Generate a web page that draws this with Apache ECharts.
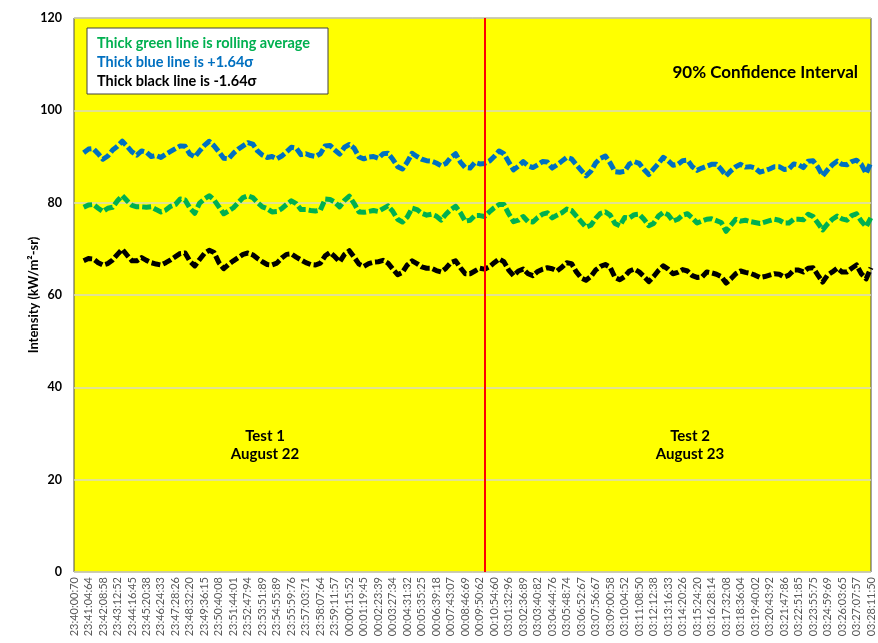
<!DOCTYPE html>
<html>
<head>
<meta charset="utf-8">
<title>Intensity with 90% confidence interval</title>
<script src="https://cdn.jsdelivr.net/npm/echarts@6/dist/echarts.min.js"></script>
<style>
  html, body { margin: 0; padding: 0; background: #ffffff; }
  #chart { width: 878px; height: 643px; }
</style>
</head>
<body>
<div id="chart"></div>
<script>
// Timestamps shown under the x axis, one every third sample
const tickLabels = [
  '23:40:00:70','23:41:04:64','23:42:08:58','23:43:12:52','23:44:16:45','23:45:20:38',
  '23:46:24:33','23:47:28:26','23:48:32:20','23:49:36:15','23:50:40:08','23:51:44:01',
  '23:52:47:94','23:53:51:89','23:54:55:89','23:55:59:76','23:57:03:71','23:58:07:64',
  '23:59:11:57','00:00:15:52','00:01:19:45','00:02:23:39','00:03:27:34','00:04:31:32',
  '00:05:35:25','00:06:39:18','00:07:43:07','00:08:46:69','00:09:50:62','00:10:54:60',
  '03:01:32:96','03:02:36:89','03:03:40:82','03:04:44:76','03:05:48:74','03:06:52:67',
  '03:07:56:67','03:09:00:58','03:10:04:52','03:11:08:50','03:12:12:38','03:13:16:33',
  '03:14:20:26','03:15:24:20','03:16:28:14','03:17:32:08','03:18:36:04','03:19:40:02',
  '03:20:43:92','03:21:47:86','03:22:51:85','03:23:55:75','03:24:59:69','03:26:03:65',
  '03:27:07:57','03:28:11:50'
];
const samplesPerTick = 3;

// +1.64 sigma band (kW/m2-sr); the rolling window leaves the first samples empty
const upperBand = [null, null,
  90.8, 91.6, 91.7, 90.6, 89.4, 90.1, 91.4, 92.2, 93.3, 92.2,
  91.0, 90.3, 91.2, 90.9, 90.0, 90.2, 89.8, 90.5, 91.1, 91.7,
  92.3, 92.2, 90.5, 89.9, 91.2, 92.4, 93.3, 92.3, 91.0, 89.6,
  89.5, 90.7, 91.6, 92.3, 93.0, 92.7, 91.2, 90.3, 89.8, 90.0,
  89.5, 90.1, 91.0, 92.0, 91.8, 90.4, 90.6, 90.2, 90.0, 90.6,
  92.3, 92.4, 91.4, 90.5, 92.0, 92.6, 91.8, 89.9, 89.5, 89.9,
  90.0, 89.6, 90.6, 90.7, 89.4, 87.8, 87.3, 88.8, 90.7, 90.0,
  89.4, 89.1, 89.0, 88.6, 88.0, 88.5, 89.8, 90.6, 88.8, 87.6,
  87.5, 88.7, 88.4, 88.5, 89.0, 90.0, 91.2, 90.6, 88.8, 87.1,
  87.9, 88.9, 88.0, 87.6, 88.2, 88.9, 88.8, 87.5, 88.2, 89.0,
  89.8, 89.5, 88.2, 87.0, 85.8, 86.8, 88.6, 89.6, 90.1, 88.6,
  86.7, 86.6, 86.8, 88.4, 88.9, 88.5, 87.2, 86.1, 87.3, 88.5,
  89.8, 89.1, 88.1, 88.3, 89.1, 89.2, 87.8, 87.0, 87.5, 87.9,
  88.3, 88.3, 87.2, 85.8, 86.9, 87.8, 88.3, 87.7, 87.8, 87.5,
  86.6, 86.9, 87.3, 87.8, 87.8, 87.2, 87.3, 88.4, 88.2, 87.6,
  89.0, 89.1, 87.7, 85.8, 87.1, 88.2, 89.0, 88.3, 88.2, 88.9,
  89.2, 88.3, 86.3, 88.8
];

// Rolling average
const rollingAvg = [null, null,
  79.0, 79.5, 79.6, 78.8, 78.1, 78.8, 79.0, 80.4, 81.5, 80.4,
  79.4, 79.1, 79.1, 79.0, 79.1, 78.5, 78.0, 78.4, 79.2, 79.6,
  80.8, 80.6, 78.8, 77.7, 79.9, 80.8, 81.5, 80.6, 79.1, 77.6,
  78.2, 78.9, 80.0, 81.1, 81.5, 81.1, 80.0, 79.1, 78.7, 78.0,
  78.1, 78.7, 79.6, 80.4, 79.8, 78.5, 78.5, 78.3, 78.2, 78.4,
  80.8, 80.7, 80.1, 79.1, 80.5, 81.4, 79.8, 78.0, 77.9, 78.1,
  78.3, 78.1, 78.7, 79.3, 78.1, 76.4, 75.8, 76.9, 78.8, 78.5,
  77.7, 77.3, 77.5, 77.1, 76.2, 77.5, 78.5, 79.2, 77.8, 76.0,
  76.2, 77.2, 77.2, 77.0, 78.0, 78.9, 79.6, 79.6, 77.6, 75.9,
  76.2, 77.0, 75.9, 75.8, 76.8, 77.5, 77.8, 76.7, 77.3, 77.8,
  78.6, 78.3, 77.1, 75.9, 74.7, 75.1, 76.6, 77.7, 78.0, 77.3,
  75.5, 75.0, 76.8, 76.7, 77.4, 77.5, 76.4, 75.0, 75.5, 77.1,
  77.9, 77.4, 76.0, 76.4, 77.3, 77.6, 76.7, 75.6, 76.0, 76.4,
  76.5, 76.1, 75.7, 73.8, 75.1, 76.4, 76.0, 76.2, 75.9, 75.7,
  75.5, 75.8, 76.1, 76.4, 76.2, 75.6, 75.6, 76.4, 76.4, 76.3,
  77.5, 77.0, 75.6, 74.1, 75.4, 76.4, 77.1, 76.5, 76.2, 77.2,
  77.6, 76.0, 74.8, 76.8
];

// -1.64 sigma band
const lowerBand = [null, null,
  67.4, 67.9, 67.8, 67.0, 66.5, 66.8, 67.6, 68.8, 69.9, 68.6,
  67.4, 67.4, 68.1, 67.5, 67.0, 66.7, 66.5, 67.0, 67.6, 68.3,
  69.0, 69.1, 67.3, 66.3, 67.7, 69.0, 69.7, 69.2, 67.0, 65.7,
  66.6, 67.4, 68.1, 68.8, 69.1, 68.7, 67.9, 67.2, 66.6, 66.5,
  66.9, 68.0, 68.8, 68.9, 68.2, 67.6, 67.0, 66.6, 66.5, 66.9,
  68.5, 69.2, 68.3, 67.2, 68.8, 69.6, 68.2, 66.7, 66.2, 66.8,
  67.1, 67.2, 67.5, 66.9, 65.6, 64.4, 64.9, 66.5, 67.4, 66.8,
  66.1, 65.8, 65.8, 65.3, 65.0, 65.8, 67.0, 67.4, 65.9, 64.6,
  64.6, 65.2, 65.8, 65.6, 66.1, 67.0, 67.8, 67.2, 65.4, 64.2,
  65.2, 65.6, 64.6, 64.2, 65.1, 65.6, 65.9, 65.7, 65.2, 66.0,
  67.0, 66.8, 65.0, 63.7, 63.2, 64.0, 65.4, 66.2, 66.6, 66.0,
  63.8, 63.3, 64.0, 65.2, 65.6, 65.0, 64.0, 62.9, 64.0, 65.3,
  66.3, 65.6, 64.6, 64.9, 65.5, 65.2, 64.2, 63.8, 63.9, 65.0,
  64.8, 64.5, 64.0, 62.6, 63.5, 64.6, 65.2, 64.9, 64.7, 64.3,
  63.8, 64.0, 64.3, 64.6, 64.5, 63.9, 64.3, 65.4, 65.4, 65.0,
  65.8, 65.9, 64.3, 62.8, 64.3, 65.0, 65.8, 65.0, 65.0, 65.8,
  66.5, 64.6, 63.5, 65.9
];

// Sample index where the second test begins
const testBreakIndex = 85;

const legendLines = [
  { text: 'Thick green line is rolling average', color: '#00B050' },
  { text: 'Thick blue line is +1.64\u03C3', color: '#0070C0' },
  { text: 'Thick black line is -1.64\u03C3', color: '#000000' }
];

const FONT = 'Lato, "Open Sans", "DejaVu Sans", sans-serif';
const lastIndex = (tickLabels.length - 1) * samplesPerTick;

function toPairs(values) {
  return values.map((v, i) => [i, v]);
}

function bandSeries(name, values, color) {
  return {
    name: name,
    type: 'line',
    data: toPairs(values),
    showSymbol: false,
    connectNulls: false,
    silent: true,
    lineStyle: { color: color, width: 5, type: [9, 3], cap: 'butt', join: 'round' },
    z: 3
  };
}

const chart = echarts.init(document.getElementById('chart'), null, { renderer: 'canvas' });

const graphics = [
  {
    type: 'rect',
    shape: { x: 87, y: 28, width: 241, height: 66 },
    style: { fill: '#ffffff', stroke: '#404040', lineWidth: 1 },
    z: 10
  },
  ...legendLines.map((l, k) => ({
    type: 'text',
    x: 97,
    y: 43 + k * 19,
    style: {
      text: l.text, fill: l.color,
      font: 'bold 14.5px ' + FONT,
      textVerticalAlign: 'middle'
    },
    z: 11
  })),
  {
    type: 'text', x: 858, y: 73,
    style: { text: '90% Confidence Interval', fill: '#000', font: 'bold 17px ' + FONT,
      textAlign: 'right', textVerticalAlign: 'middle' },
    z: 11
  },
  {
    type: 'text', x: 265, y: 445,
    style: { text: 'Test 1\nAugust 22', fill: '#000', font: 'bold 15px ' + FONT,
      textAlign: 'center', textVerticalAlign: 'middle', lineHeight: 18 },
    z: 11
  },
  {
    type: 'text', x: 690, y: 445,
    style: { text: 'Test 2\nAugust 23', fill: '#000', font: 'bold 15px ' + FONT,
      textAlign: 'center', textVerticalAlign: 'middle', lineHeight: 18 },
    z: 11
  }
];

chart.setOption({
  animation: false,
  backgroundColor: '#ffffff',
  grid: {
    left: 74, right: 7, top: 18, bottom: 71,
    show: true,
    backgroundColor: '#FFFF00',
    borderColor: '#4d4d4d',
    borderWidth: 1
  },
  xAxis: {
    type: 'value',
    min: 0,
    max: lastIndex,
    interval: samplesPerTick,
    axisLine: { show: false },
    axisTick: { show: false },
    splitLine: { show: false },
    axisLabel: {
      rotate: 90,
      fontSize: 11,
      fontFamily: FONT,
      color: '#595959',
      margin: 5,
      formatter: v => tickLabels[Math.round(v / samplesPerTick)] || ''
    }
  },
  yAxis: {
    type: 'value',
    min: 0,
    max: 120,
    interval: 20,
    name: 'Intensity (kW/m\u00B2-sr)',
    nameLocation: 'middle',
    nameRotate: 90,
    nameGap: 34,
    nameMoveOverlap: false,
    nameTextStyle: { fontFamily: FONT, fontWeight: 'bold', fontSize: 13, color: '#000' },
    axisLine: { show: false },
    axisTick: { show: false },
    splitLine: { show: true, lineStyle: { color: '#d9d9c0', width: 1.5 } },
    axisLabel: { fontFamily: FONT, fontWeight: 'bold', fontSize: 12.5, color: '#000', margin: 12 }
  },
  graphic: graphics,
  series: [
    bandSeries('+1.64\u03C3', upperBand, '#0070C0'),
    bandSeries('Rolling average', rollingAvg, '#00B050'),
    Object.assign(bandSeries('-1.64\u03C3', lowerBand, '#000000'), {
      markLine: {
        silent: true,
        symbol: ['none', 'none'],
        label: { show: false },
        lineStyle: { color: '#FF0000', width: 2, type: 'solid' },
        data: [{ xAxis: testBreakIndex }]
      }
    })
  ]
});
</script>
</body>
</html>
